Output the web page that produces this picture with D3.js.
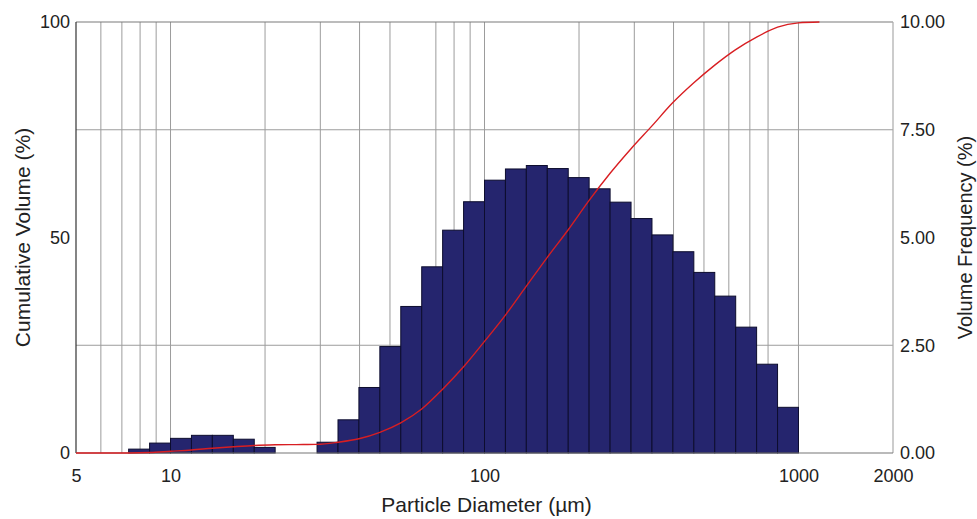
<!DOCTYPE html>
<html>
<head>
<meta charset="utf-8">
<script src="https://cdn.jsdelivr.net/npm/d3@7"></script>
<style>
  html, body { margin: 0; padding: 0; background: #fff; }
  svg { display: block; }
  text { font-family: "Liberation Sans", Arial, Helvetica, sans-serif; fill: #222; }
</style>
</head>
<body>
<svg id="chart" width="977" height="519"></svg>
<script>
// ---- data ----
const binEdges = [7.356, 8.577, 10, 11.66, 13.59, 15.85, 18.48, 21.54, 25.12, 29.29, 34.15,
  39.81, 46.42, 54.12, 63.10, 73.56, 85.77, 100, 116.6, 135.9, 158.5, 184.8, 215.4, 251.2,
  292.9, 341.5, 398.1, 464.2, 541.2, 631.0, 735.6, 857.7, 1000];
const volumeFrequency = [0.09, 0.23, 0.34, 0.41, 0.41, 0.32, 0.13, 0, 0,
  0.25, 0.77, 1.52, 2.47, 3.40, 4.32, 5.17, 5.83, 6.33, 6.59, 6.67, 6.60, 6.39, 6.13,
  5.82, 5.44, 5.06, 4.67, 4.19, 3.64, 2.92, 2.06, 1.06];
const curveSizes = [5, 7.356, 8.577, 10, 11.66, 13.59, 15.85, 18.48, 21.54, 25.12, 29.29, 34.15,
  39.81, 46.42, 54.12, 63.10, 73.56, 85.77, 100, 116.6, 135.9, 158.5, 184.8, 215.4, 251.2,
  292.9, 341.5, 398.1, 464.2, 541.2, 631.0, 735.6, 857.7, 1000, 1166];
const cumulativeVolume = [0, 0, 0.1, 0.4, 0.7, 1.1, 1.45, 1.75, 1.9, 1.95, 2.0, 2.5,
  3.3, 4.8, 7.0, 10.2, 14.8, 20.0, 25.9, 32.0, 38.7, 45.4, 51.8, 58.6, 64.9,
  70.6, 75.9, 81.3, 85.9, 90.0, 93.6, 96.5, 98.8, 99.8, 100];
const xTickValues = [5, 10, 100, 1000, 2000];
const xGridValues = [6, 7, 8, 9, 10, 20, 30, 40, 50, 70, 80, 90, 100, 200, 300, 400, 500, 600, 700, 800, 1000];
const leftTickValues = [0, 50, 100];
const leftGridValues = [25, 75];
const rightTickValues = [0, 2.5, 5, 7.5, 10];

// ---- layout ----
const margin = { left: 76, right: 84, top: 22, bottom: 66 };
const W = 977, H = 519;
const x0 = margin.left, x1 = W - margin.right;
const y0 = H - margin.bottom, y1 = margin.top;

const svg = d3.select("#chart");
const x = d3.scaleLog().domain([5, 2000]).range([x0, x1]);
const yL = d3.scaleLinear().domain([0, 100]).range([y0, y1]);
const yR = d3.scaleLinear().domain([0, 10]).range([y0, y1]);

// gridlines
const grid = svg.append("g");
grid.selectAll("line.v").data(xGridValues).enter().append("line")
  .attr("x1", d => x(d)).attr("x2", d => x(d))
  .attr("y1", y0).attr("y2", y1)
  .attr("stroke", "#9c9c9c").attr("stroke-width", 1);
grid.selectAll("line.h").data(leftGridValues).enter().append("line")
  .attr("x1", x0).attr("x2", x1)
  .attr("y1", d => yL(d)).attr("y2", d => yL(d))
  .attr("stroke", "#9c9c9c").attr("stroke-width", 1);

// frame
svg.append("line").attr("x1", x0).attr("x2", x1).attr("y1", y1).attr("y2", y1)
  .attr("stroke", "#7a7a7a").attr("stroke-width", 1.2);
svg.append("line").attr("x1", x1).attr("x2", x1).attr("y1", y1).attr("y2", y0)
  .attr("stroke", "#aaaaaa").attr("stroke-width", 1.2);

// bars
const bars = volumeFrequency.map((v, i) => ({ a: binEdges[i], b: binEdges[i + 1], v }));
svg.append("g").selectAll("rect").data(bars.filter(d => d.v > 0)).enter().append("rect")
  .attr("x", d => x(d.a))
  .attr("width", d => x(d.b) - x(d.a))
  .attr("y", d => yR(d.v))
  .attr("height", d => y0 - yR(d.v))
  .attr("fill", "#25256e")
  .attr("stroke", "#0d0d2e")
  .attr("stroke-width", 1);

// left axis line and baseline
svg.append("line").attr("x1", x0).attr("x2", x0).attr("y1", y1).attr("y2", y0)
  .attr("stroke", "#333").attr("stroke-width", 1.2);
svg.append("line").attr("x1", x0).attr("x2", x1).attr("y1", y0).attr("y2", y0)
  .attr("stroke", "#777").attr("stroke-width", 1.2);

// cumulative curve
const line = d3.line()
  .x((d, i) => x(curveSizes[i]))
  .y(d => yL(d))
  .curve(d3.curveMonotoneX);
svg.append("path").datum(cumulativeVolume)
  .attr("d", line)
  .attr("fill", "none")
  .attr("stroke", "#d81e22")
  .attr("stroke-width", 1.4);

// axes (text only, using d3 axis generators)
const fmtX = d => String(d);
const xAxis = d3.axisBottom(x).tickValues(xTickValues).tickFormat(fmtX).tickSize(0).tickPadding(10);
const gx = svg.append("g").attr("transform", `translate(0,${y0 + 6})`).call(xAxis);
const lAxis = d3.axisLeft(yL).tickValues(leftTickValues).tickFormat(d3.format("d")).tickSize(0).tickPadding(6);
const gl = svg.append("g").attr("transform", `translate(${x0},0)`).call(lAxis);
const rAxis = d3.axisRight(yR).tickValues(rightTickValues).tickFormat(d3.format(".2f")).tickSize(0).tickPadding(7);
const gr = svg.append("g").attr("transform", `translate(${x1},0)`).call(rAxis);
[gx, gl, gr].forEach(g => {
  g.select(".domain").remove();
  g.selectAll("text").style("font-size", "18px").attr("fill", "#222")
    .style("font-family", '"Liberation Sans", Arial, sans-serif');
});

// axis titles
svg.append("text").attr("x", (x0 + x1) / 2 + 2).attr("y", 512)
  .attr("text-anchor", "middle").style("font-size", "21px")
  .text("Particle Diameter (µm)");
svg.append("text").attr("transform", `translate(30,${(y0 + y1) / 2}) rotate(-90)`)
  .attr("text-anchor", "middle").style("font-size", "21px")
  .text("Cumulative Volume (%)");
svg.append("text").attr("transform", `translate(972,${(y0 + y1) / 2}) rotate(-90)`)
  .attr("text-anchor", "middle").style("font-size", "20px")
  .text("Volume Frequency (%)");
</script>
</body>
</html>
